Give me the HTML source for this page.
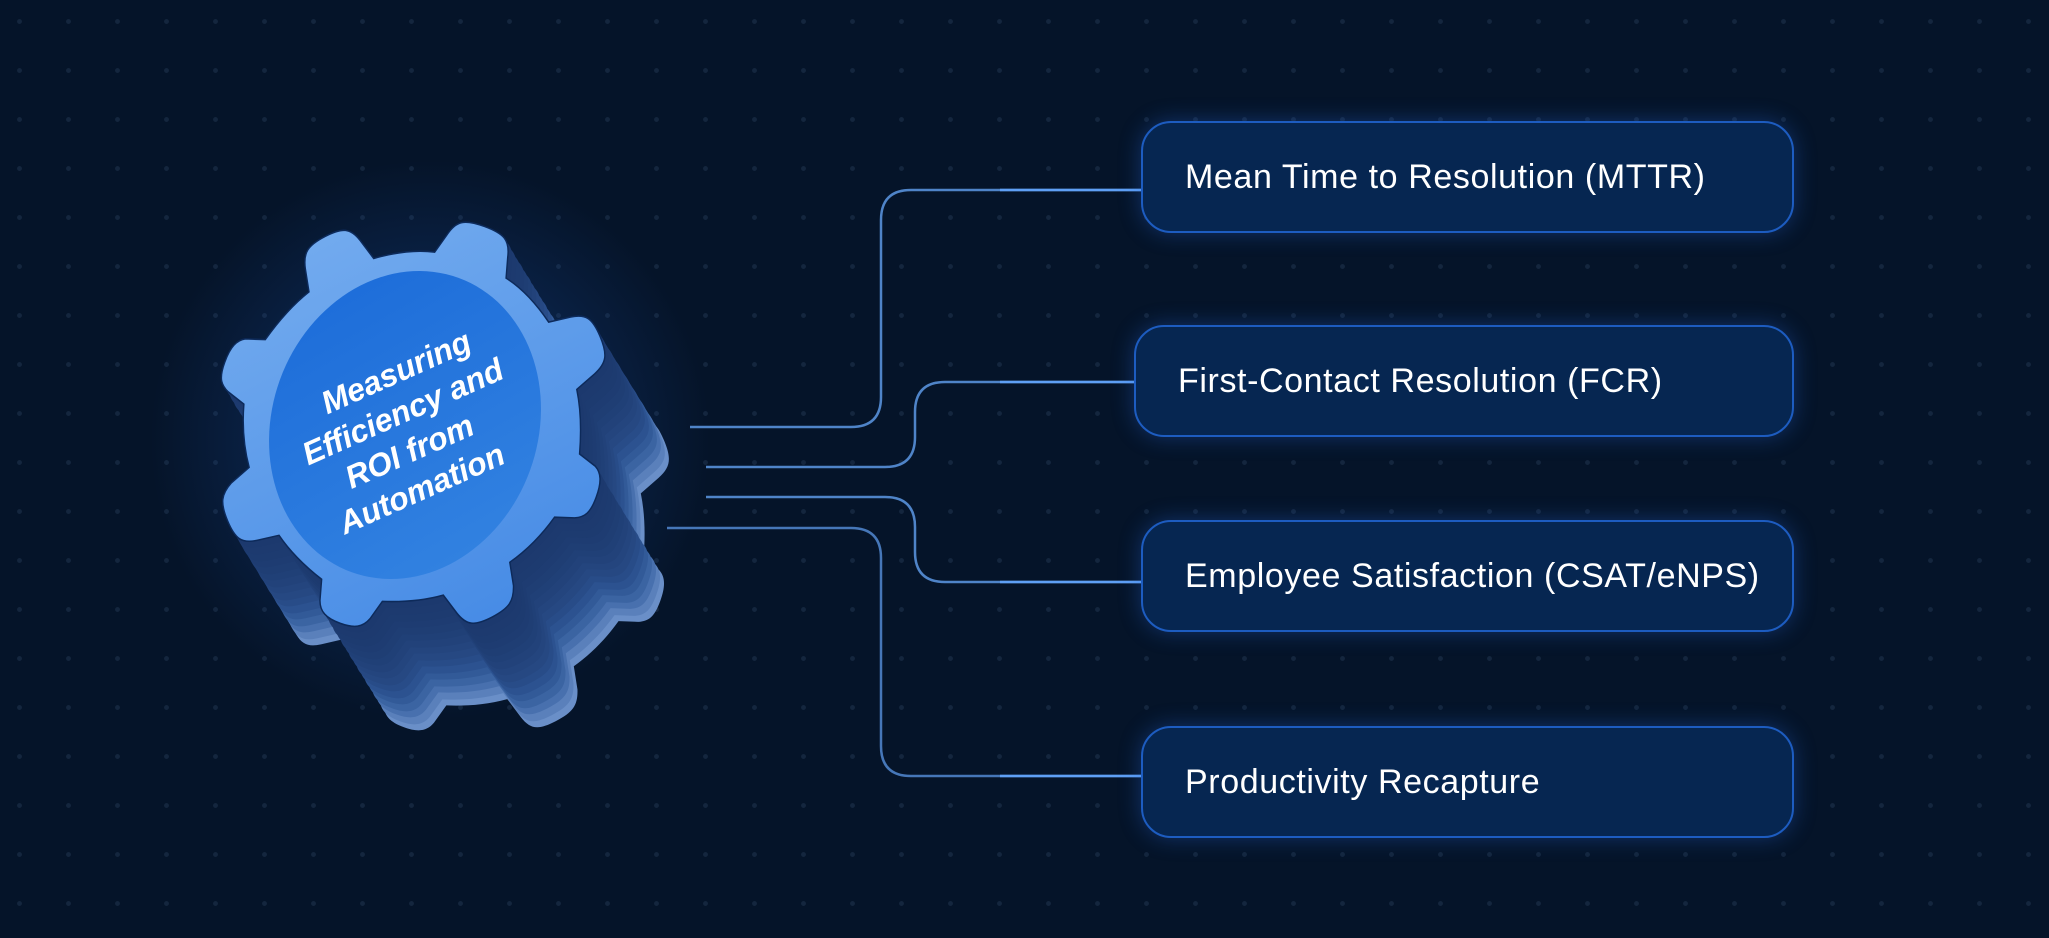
<!DOCTYPE html>
<html><head><meta charset="utf-8"><style>
html,body{margin:0;padding:0}
body{width:2049px;height:938px;overflow:hidden;position:relative;background:#051429;
background-image:radial-gradient(circle,#14263e 2.2px,transparent 2.6px);background-size:49px 49px;background-position:-5px -3px;font-family:"Liberation Sans",sans-serif}
.box{position:absolute;left:1141px;width:653px;height:112px;box-sizing:border-box;border:2px solid #1d5cc0;border-radius:30px;background:#062651;box-shadow:0 0 22px rgba(40,110,230,0.35);color:#fff;font-size:34px;line-height:108px;padding-left:42px;letter-spacing:0.6px}
svg{position:absolute;left:0;top:0}
</style></head><body>
<svg width="2049" height="938">
<defs>
<radialGradient id="glow" cx="0.5" cy="0.5" r="0.5"><stop offset="0" stop-color="#1f5bc0" stop-opacity="0.45"/><stop offset="1" stop-color="#1f5bc0" stop-opacity="0"/></radialGradient>
<linearGradient id="top" x1="0" y1="0" x2="1" y2="1"><stop offset="0" stop-color="#7ab0f0"/><stop offset="1" stop-color="#3f86e4"/></linearGradient>
<linearGradient id="face" x1="0" y1="0" x2="1" y2="1"><stop offset="0" stop-color="#1a6ad8"/><stop offset="1" stop-color="#3585e2"/></linearGradient>
<path id="g" d="M0,-200 C22,-200 30,-196 34,-180 L40,-160 C60,-156 80,-146 98,-134 L118,-146 C132,-154 140,-152 154,-138 C168,-124 170,-116 162,-102 L150,-82 C162,-64 170,-44 176,-24 L196,-18 C204,-14 208,-6 208,10 C208,26 204,32 194,36 L174,42 C168,62 158,82 146,98 L158,118 C164,132 162,140 148,154 C134,168 126,170 112,162 L92,150 C74,162 54,170 34,176 L28,196 C24,206 16,210 0,210 C-16,210 -24,206 -28,196 L-34,176 C-54,170 -74,162 -92,150 L-112,162 C-126,170 -134,168 -148,154 C-162,140 -164,132 -158,118 L-146,98 C-158,82 -168,62 -174,42 L-194,36 C-204,32 -208,26 -208,10 C-208,-6 -204,-14 -196,-18 L-176,-24 C-170,-44 -162,-64 -150,-82 L-162,-102 C-170,-116 -168,-124 -154,-138 C-140,-152 -132,-154 -118,-146 L-98,-134 C-80,-146 -60,-156 -40,-160 L-34,-180 C-30,-196 -22,-200 0,-200Z"/>
<g id="gt"><use href="#g" transform="translate(414,420) rotate(20) scale(0.95,1.03)"/></g>
</defs>
<ellipse cx="430" cy="440" rx="280" ry="280" fill="url(#glow)"/>
<g fill="none" stroke-width="2.5">
<path d="M690,427 H851 Q881,427 881,397 V220 Q881,190 911,190 H1141" stroke="#4f84c8"/>
<path d="M706,467 H885 Q915,467 915,437 V412 Q915,382 945,382 H1134" stroke="#4f84c8"/>
<path d="M706,497 H885 Q915,497 915,527 V552 Q915,582 945,582 H1141" stroke="#4f84c8"/>
<path d="M667,528 H851 Q881,528 881,558 V746 Q881,776 911,776 H1141" stroke="#4677b8"/>
<path d="M1000,190 H1141 M1000,382 H1134 M1000,582 H1141 M1000,776 H1141" stroke="#5fa0f5"/>
</g>
<g>
<use href="#gt" transform="translate(64,104)" fill="#6a8fc8"/>
<use href="#gt" transform="translate(60,98)" fill="#5a80bb"/>
<use href="#gt" transform="translate(56,91)" fill="#4870ae"/>
<use href="#gt" transform="translate(52,85)" fill="#3b64a2"/>
<use href="#gt" transform="translate(48,78)" fill="#325a98"/>
<use href="#gt" transform="translate(44,72)" fill="#2c5290"/>
<use href="#gt" transform="translate(40,65)" fill="#284c88"/>
<use href="#gt" transform="translate(36,59)" fill="#264882"/>
<use href="#gt" transform="translate(32,52)" fill="#24457e"/>
<use href="#gt" transform="translate(28,46)" fill="#22427a"/>
<use href="#gt" transform="translate(24,39)" fill="#204077"/>
<use href="#gt" transform="translate(20,33)" fill="#1f3e74"/>
<use href="#gt" transform="translate(16,26)" fill="#1e3c72"/>
<use href="#gt" transform="translate(12,20)" fill="#1d3b70"/>
<use href="#gt" transform="translate(8,13)" fill="#1d3a6f"/>
<use href="#gt" transform="translate(4,6)" fill="#1c396e"/>
</g>
<use href="#gt" fill="url(#top)" stroke="#0d2a5a" stroke-width="1.5"/>
<ellipse cx="0" cy="0" rx="140" ry="152" fill="url(#face)" transform="translate(405,425) rotate(20) scale(0.95,1.03)"/>
<g transform="translate(410,428) rotate(-24)" fill="#fff" font-family="Liberation Sans, sans-serif" font-weight="bold" font-style="italic" font-size="32" text-anchor="middle">
<text x="10" y="-46">Measuring</text>
<text x="0" y="-7">Efficiency and</text>
<text x="-10" y="32">ROI from</text>
<text x="-14" y="71">Automation</text>
</g>
</svg>
<div class="box" style="top:121px">Mean Time to Resolution (MTTR)</div>
<div class="box" style="top:325px;left:1134px;width:660px">First-Contact Resolution (FCR)</div>
<div class="box" style="top:520px">Employee Satisfaction (CSAT/eNPS)</div>
<div class="box" style="top:726px">Productivity Recapture</div>
</body></html>
